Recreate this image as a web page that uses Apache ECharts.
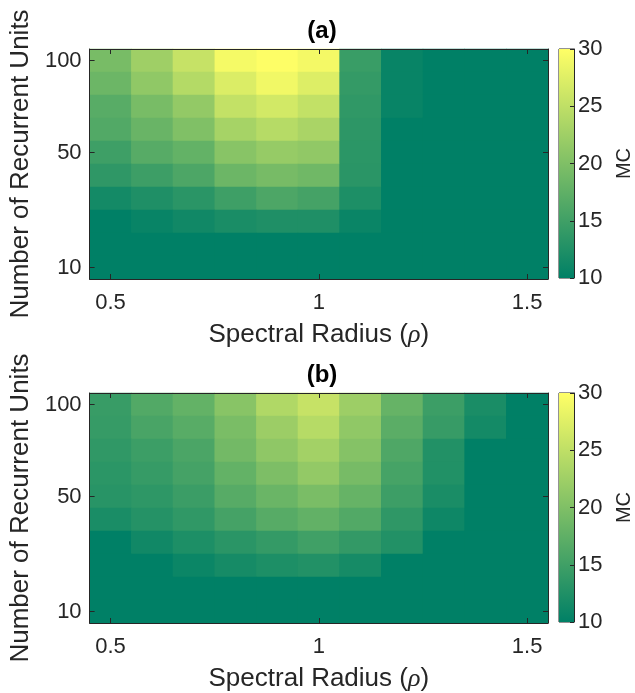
<!DOCTYPE html>
<html>
<head>
<meta charset="utf-8">
<script src="https://cdn.jsdelivr.net/npm/echarts@6/dist/echarts.min.js"></script>
<style>
html,body{margin:0;padding:0;background:#fff;}
#chart{width:635px;height:693px;}
</style>
</head>
<body>
<div id="chart"></div>
<script>
// Spectral radius (x categories) and number of recurrent units (y categories, bottom -> top)
const xCats = ['0.5','0.6','0.7','0.8','0.9','1','1.1','1.2','1.3','1.4','1.5'];
const yCats = ['10','20','25','30','40','50','60','70','80','100'];
const xTickLabels = ['0.5','1','1.5'];
const yTickLabels = ['10','50','100'];
const cbMin = 10, cbMax = 30, cbStep = 5;

// MC values, rows listed top (100 units) -> bottom (10 units)
const mcA = [
  [19.4, 22.5, 25.5, 29.2, 29.9, 29.1, 14.5, 10.6, 10, 10, 10],
  [18.5, 21.3, 24.1, 27.2, 28.9, 27.3, 14.1, 10.6, 10, 10, 10],
  [16.9, 19.4, 21.5, 25.3, 26.5, 25.2, 13.8, 10.6, 10, 10, 10],
  [16.4, 18.2, 20.0, 23.0, 24.3, 23.3, 13.5, 10, 10, 10, 10],
  [14.9, 16.8, 17.8, 20.7, 21.8, 21.4, 13.4, 10, 10, 10, 10],
  [13.7, 14.8, 16.0, 18.5, 19.3, 18.8, 13.3, 10, 10, 10, 10],
  [11.6, 12.4, 13.3, 14.9, 16.0, 15.4, 12.3, 10, 10, 10, 10],
  [10.0, 10.6, 11.3, 12.0, 12.4, 12.4, 10.8, 10, 10, 10, 10],
  [10, 10, 10, 10, 10, 10, 10, 10, 10, 10, 10],
  [10, 10, 10, 10, 10, 10, 10, 10, 10, 10, 10]
];
const mcB = [
  [14.4, 16.4, 17.8, 20.7, 23.8, 25.5, 22.3, 18.0, 14.7, 12.0, 10],
  [14.2, 15.7, 16.9, 19.6, 22.2, 24.3, 21.3, 17.1, 14.3, 11.6, 10],
  [13.8, 14.7, 15.9, 19.0, 21.2, 22.8, 20.4, 16.2, 12.7, 10, 10],
  [13.4, 14.2, 15.4, 17.8, 19.8, 21.5, 19.3, 15.5, 12.6, 10, 10],
  [13.1, 13.6, 14.6, 16.8, 18.3, 19.6, 18.0, 14.8, 12.0, 10, 10],
  [12.0, 12.9, 13.8, 15.4, 16.8, 17.7, 16.4, 13.7, 11.1, 10, 10],
  [10.0, 11.3, 12.3, 13.3, 14.1, 15.0, 14.0, 12.7, 10, 10, 10],
  [10, 10, 10.9, 11.7, 12.3, 12.7, 11.7, 10, 10, 10, 10],
  [10, 10, 10, 10, 10, 10, 10, 10, 10, 10, 10],
  [10, 10, 10, 10, 10, 10, 10, 10, 10, 10, 10]
];

const FONT = "'Liberation Sans', Arial, sans-serif";
const INK = '#262626';
const cLow = '#008066', cHigh = '#ffff66';

function toCells(mat){
  const out = [];
  const n = mat.length;
  mat.forEach((row, r) => row.forEach((v, c) => out.push([c, n - 1 - r, v])));
  return out;
}

const panels = [
  {title:'(a)', top:49, data:mcA},
  {title:'(b)', top:393, data:mcB}
];
const PLOT_LEFT = 86, PLOT_W = 462, PLOT_H = 230;
const CB_LEFT = 559, CB_W = 20;

const grids = [], xAxes = [], yAxes = [], series = [], titles = [];
const xShow = (i, v) => xTickLabels.indexOf(v) >= 0;
const yShow = (i, v) => yTickLabels.indexOf(v) >= 0;

panels.forEach((p, k) => {
  const g = grids.length;
  grids.push({left:PLOT_LEFT, top:p.top, width:PLOT_W, height:PLOT_H, containLabel:false,
    show:true, backgroundColor:cLow, borderWidth:0});
  titles.push({text:p.title, left:PLOT_LEFT + PLOT_W/2, top:p.top - 35, textAlign:'center',
    textStyle:{fontSize:24, fontWeight:'bold', color:'#000', fontFamily:FONT}});
  const tick = {show:true, inside:true, length:5, alignWithLabel:true, lineStyle:{color:INK, width:1}};
  const xi = xAxes.length, yi = yAxes.length;
  xAxes.push({type:'category', gridIndex:g, data:xCats, position:'bottom', z:10,
    axisLine:{show:true, lineStyle:{color:INK, width:1}},
    axisTick:Object.assign({}, tick, {interval:xShow}),
    axisLabel:{interval:xShow, fontSize:22, color:INK, margin:13, fontFamily:FONT},
    splitLine:{show:false},
    name:'Spectral Radius ({i|ρ})', nameLocation:'middle', nameGap:43,
    nameTextStyle:{fontSize:26, color:INK, fontFamily:FONT,
      rich:{i:{fontSize:26, fontStyle:'italic', fontFamily:"'Liberation Serif', serif", color:INK}}}});
  xAxes.push({type:'category', gridIndex:g, data:xCats, position:'top', z:10,
    axisLine:{show:true, lineStyle:{color:INK, width:1}},
    axisTick:Object.assign({}, tick, {interval:xShow}),
    axisLabel:{show:false}, splitLine:{show:false}});
  yAxes.push({type:'category', gridIndex:g, data:yCats, position:'left', z:10,
    axisLine:{show:true, lineStyle:{color:INK, width:1}},
    axisTick:Object.assign({}, tick, {interval:yShow}),
    axisLabel:{interval:yShow, fontSize:22, color:INK, margin:8, fontFamily:FONT},
    splitLine:{show:false},
    name:'Number of Recurrent Units', nameLocation:'middle', nameGap:52, nameRotate:90,
    nameTextStyle:{fontSize:26, color:INK, fontFamily:FONT}});
  yAxes.push({type:'category', gridIndex:g, data:yCats, position:'right', z:10,
    axisLine:{show:true, lineStyle:{color:INK, width:1}},
    axisTick:Object.assign({}, tick, {interval:yShow}),
    axisLabel:{show:false}, splitLine:{show:false}});
  series.push({type:'heatmap', xAxisIndex:xi, yAxisIndex:yi, data:toCells(p.data),
    itemStyle:{borderWidth:0}, emphasis:{disabled:true}, progressive:0});
});

// colorbars
panels.forEach((p, k) => {
  const g = grids.length;
  grids.push({left:CB_LEFT, top:p.top, width:CB_W, height:PLOT_H - 1, show:true,
    borderColor:INK, borderWidth:1, backgroundColor:'transparent'});
  const xi = xAxes.length, yi = yAxes.length;
  xAxes.push({type:'category', gridIndex:g, data:['MC'], show:false});
  yAxes.push({type:'value', gridIndex:g, position:'right', min:cbMin, max:cbMax, interval:cbStep, z:10,
    axisLine:{show:true, lineStyle:{color:INK, width:1}},
    axisTick:{show:true, inside:true, length:4, lineStyle:{color:INK}},
    axisLabel:{fontSize:22, color:INK, margin:4, fontFamily:FONT},
    splitLine:{show:false},
    name:'MC', nameLocation:'middle', nameGap:40, nameRotate:90,
    nameTextStyle:{fontSize:20, color:INK, fontFamily:FONT}});
  series.push({type:'bar', xAxisIndex:xi, yAxisIndex:yi, stack:'cb'+k, data:[cbMin],
    barWidth:'100%', itemStyle:{color:'rgba(0,0,0,0)'}, silent:true});
  series.push({type:'bar', xAxisIndex:xi, yAxisIndex:yi, stack:'cb'+k, data:[cbMax - cbMin],
    barWidth:'100%', silent:true,
    itemStyle:{color:new echarts.graphic.LinearGradient(0,0,0,1,[{offset:0,color:cHigh},{offset:1,color:cLow}])}});
});

const chart = echarts.init(document.getElementById('chart'), null, {renderer:'canvas'});
chart.setOption({
  animation:false,
  backgroundColor:'#fff',
  textStyle:{fontFamily:FONT},
  title:titles,
  grid:grids,
  xAxis:xAxes,
  yAxis:yAxes,
  visualMap:{type:'continuous', show:false, min:cbMin, max:cbMax, seriesIndex:[0,1],
    inRange:{color:[cLow, cHigh]}},
  series:series
});
</script>
</body>
</html>
